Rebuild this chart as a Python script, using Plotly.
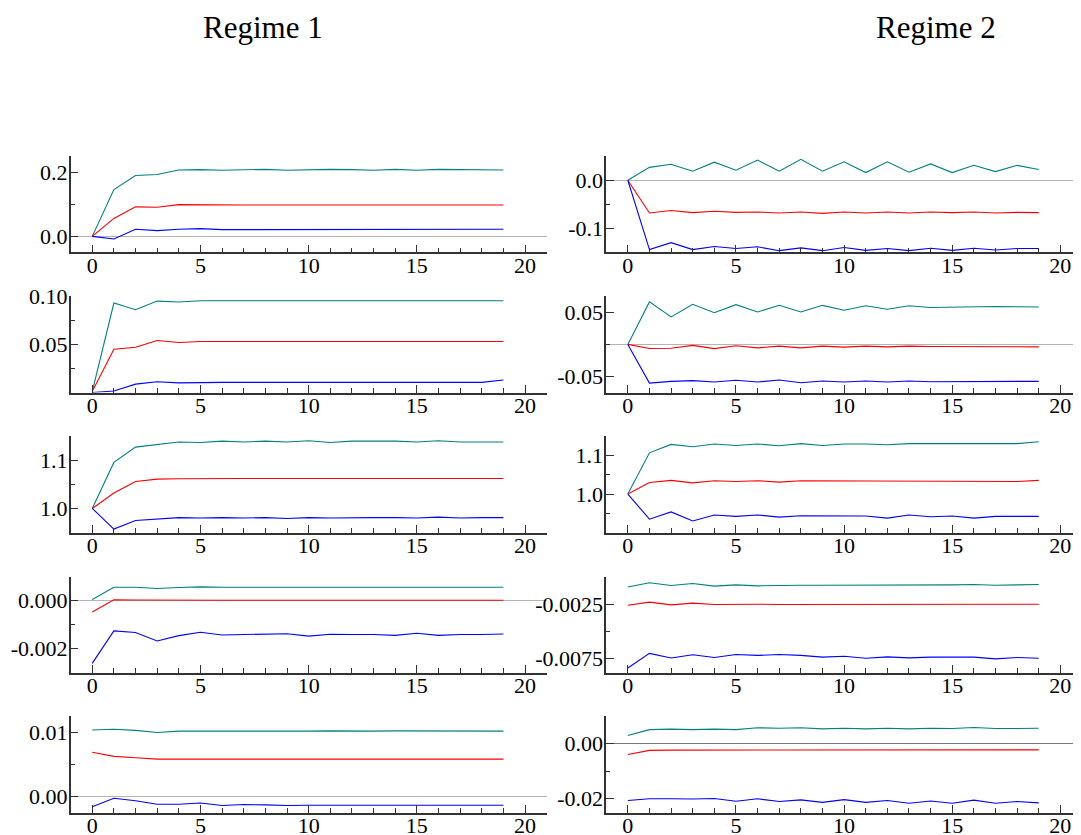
import plotly.graph_objects as go

# page is 1081x835; the html body has an 8px margin, so the figure is drawn 8px in
OFF = 8
W, H = 1081 - OFF, 835 - OFF
FONT = "Liberation Serif"

steps = list(range(20))

# Regime 1 panels (left column)
r1_row1_upper = [0, 0.146, 0.190, 0.193, 0.207, 0.208, 0.206, 0.207, 0.209, 0.206, 0.208, 0.209, 0.208, 0.206, 0.209, 0.206, 0.209, 0.209, 0.209, 0.207]
r1_row1_mid = [0, 0.056, 0.092, 0.091, 0.099, 0.098, 0.098, 0.098, 0.098, 0.097, 0.098, 0.098, 0.098, 0.098, 0.098, 0.098, 0.098, 0.098, 0.098, 0.098]
r1_row1_lower = [0, -0.008, 0.022, 0.018, 0.022, 0.024, 0.021, 0.021, 0.021, 0.021, 0.021, 0.021, 0.021, 0.022, 0.022, 0.021, 0.021, 0.022, 0.022, 0.022]

r1_row2_upper = [0.001, 0.093, 0.086, 0.095, 0.094, 0.0953, 0.0953, 0.0953, 0.0953, 0.0953, 0.0953, 0.0953, 0.0953, 0.0953, 0.0953, 0.0953, 0.0953, 0.0953, 0.0953, 0.0953]
r1_row2_mid = [0.001, 0.045, 0.047, 0.054, 0.052, 0.053, 0.053, 0.053, 0.053, 0.053, 0.053, 0.053, 0.053, 0.053, 0.053, 0.053, 0.053, 0.053, 0.053, 0.053]
r1_row2_lower = [0.0, 0.0015, 0.0087, 0.0112, 0.010, 0.0105, 0.0105, 0.0105, 0.0105, 0.011, 0.0105, 0.0105, 0.0105, 0.011, 0.0105, 0.0105, 0.0105, 0.0105, 0.0105, 0.013]

r1_row3_upper = [1.0, 1.0957, 1.1275, 1.133, 1.138, 1.137, 1.140, 1.138, 1.140, 1.138, 1.1406, 1.137, 1.140, 1.140, 1.140, 1.138, 1.1406, 1.138, 1.138, 1.138]
r1_row3_mid = [1.0, 1.032, 1.056, 1.061, 1.0616, 1.0623, 1.0623, 1.0623, 1.0623, 1.0623, 1.0625, 1.0620, 1.0623, 1.0623, 1.0623, 1.0623, 1.0623, 1.0623, 1.0623, 1.0623]
r1_row3_lower = [1.0, 0.957, 0.975, 0.978, 0.981, 0.980, 0.981, 0.980, 0.981, 0.979, 0.981, 0.980, 0.981, 0.981, 0.981, 0.980, 0.982, 0.980, 0.981, 0.981]

r1_row4_upper = [0.00004, 0.00055, 0.00055, 0.0005, 0.00054, 0.00057, 0.00055, 0.00055, 0.00056, 0.00057, 0.00055, 0.00057, 0.00055, 0.00055, 0.00055, 0.00055, 0.00055, 0.00055, 0.00055, 0.00055]
r1_row4_mid = [-0.00048, 0.00003, 0.00002, 0.00001, 0.00001, 0.00002, 0.00001, 0.00001, 0.00001, 0.00002, 0.00001, 0.00002, 0.00001, 0.00001, 0.00001, 0.00002, 0.00001, 0.00001, 0.00001, 0.00001]
r1_row4_lower = [-0.00261, -0.00126, -0.00133, -0.00168, -0.00146, -0.00132, -0.00143, -0.00142, -0.00141, -0.00138, -0.00148, -0.0014, -0.00141, -0.00141, -0.00145, -0.00136, -0.00145, -0.00141, -0.00141, -0.00139]

r1_row5_upper = [0.01038, 0.01049, 0.01032, 0.0100, 0.0102, 0.0102, 0.0101, 0.0102, 0.0102, 0.0102, 0.0102, 0.01025, 0.0102, 0.0102, 0.01025, 0.01025, 0.0102, 0.0102, 0.0102, 0.0102]
r1_row5_mid = [0.00692, 0.00627, 0.00605, 0.00584, 0.00584, 0.00584, 0.0058, 0.0058, 0.00584, 0.0058, 0.00584, 0.00584, 0.00584, 0.00584, 0.00584, 0.00584, 0.00584, 0.00584, 0.00584, 0.00584]
r1_row5_lower = [-0.00157, -0.00027, -0.00065, -0.00119, -0.00119, -0.001, -0.0014, -0.00124, -0.0013, -0.0014, -0.00135, -0.00135, -0.00135, -0.00135, -0.00135, -0.00135, -0.00135, -0.0013, -0.00135, -0.00135]

# Regime 2 panels (right column)
r2_row1_upper = [0, 0.0268, 0.0333, 0.0188, 0.0377, 0.021, 0.042, 0.0188, 0.0435, 0.0188, 0.0384, 0.016, 0.0384, 0.0167, 0.034, 0.016, 0.031, 0.018, 0.031, 0.0225]
r2_row1_mid = [0, -0.068, -0.063, -0.0674, -0.0645, -0.0667, -0.066, -0.068, -0.066, -0.0688, -0.066, -0.068, -0.066, -0.068, -0.066, -0.0674, -0.066, -0.068, -0.0667, -0.0674]
r2_row1_lower = [0, -0.1442, -0.1297, -0.1442, -0.1377, -0.142, -0.1384, -0.1464, -0.1406, -0.1464, -0.1399, -0.1457, -0.142, -0.1464, -0.1413, -0.1457, -0.1413, -0.145, -0.142, -0.142]

r2_row2_upper = [0, 0.0663, 0.0429, 0.0625, 0.0495, 0.062, 0.0505, 0.0609, 0.0505, 0.0609, 0.0533, 0.0603, 0.0549, 0.0603, 0.0576, 0.0582, 0.0592, 0.0592, 0.0587, 0.0582]
r2_row2_mid = [0, -0.0065, -0.006, -0.0016, -0.0065, -0.0022, -0.0054, -0.0027, -0.0054, -0.0027, -0.0043, -0.0027, -0.0038, -0.0027, -0.0033, -0.0033, -0.0033, -0.0033, -0.0038, -0.0038]
r2_row2_lower = [0, -0.0603, -0.0576, -0.0565, -0.0587, -0.056, -0.0587, -0.0554, -0.0598, -0.0571, -0.0587, -0.0571, -0.0587, -0.0571, -0.0582, -0.0582, -0.0582, -0.0576, -0.0576, -0.0576]

r2_row3_upper = [1.0, 1.107, 1.129, 1.1227, 1.130, 1.126, 1.130, 1.1255, 1.131, 1.126, 1.130, 1.130, 1.128, 1.131, 1.131, 1.131, 1.130, 1.131, 1.131, 1.136]
r2_row3_mid = [1.0, 1.030, 1.0355, 1.029, 1.0345, 1.0327, 1.0345, 1.031, 1.0345, 1.0345, 1.0345, 1.0345, 1.0327, 1.0345, 1.0327, 1.0345, 1.0327, 1.0345, 1.0327, 1.0355]
r2_row3_lower = [1.0, 0.9345, 0.9536, 0.930, 0.9455, 0.9418, 0.9455, 0.940, 0.9436, 0.9427, 0.9427, 0.9427, 0.9373, 0.9455, 0.9409, 0.9427, 0.9373, 0.9418, 0.9418, 0.9418]

r2_row4_upper = [-0.00091, -0.00053, -0.00078, -0.00059, -0.00084, -0.00072, -0.00081, -0.00075, -0.00075, -0.00075, -0.00075, -0.00072, -0.00072, -0.00072, -0.00072, -0.00072, -0.00068, -0.00075, -0.00072, -0.00068]
r2_row4_mid = [-0.0026, -0.00231, -0.00256, -0.0024, -0.00253, -0.0025, -0.0025, -0.00252, -0.00252, -0.0025, -0.00252, -0.0025, -0.00252, -0.0025, -0.00252, -0.0025, -0.00252, -0.0025, -0.00252, -0.0025]
r2_row4_lower = [-0.00836, -0.00702, -0.00744, -0.00715, -0.0074, -0.00712, -0.00721, -0.00712, -0.00721, -0.00737, -0.00728, -0.00747, -0.00734, -0.00744, -0.00737, -0.0074, -0.00737, -0.00753, -0.0074, -0.00747]

r2_row5_upper = [0.0029, 0.005, 0.0052, 0.005, 0.0052, 0.005, 0.0057, 0.0055, 0.0057, 0.0053, 0.0055, 0.0053, 0.0055, 0.0053, 0.0055, 0.0054, 0.0058, 0.0054, 0.0054, 0.0055]
r2_row5_mid = [-0.004, -0.0025, -0.0024, -0.0024, -0.0024, -0.0024, -0.0024, -0.0024, -0.0023, -0.0024, -0.0023, -0.0024, -0.0023, -0.0024, -0.0024, -0.0024, -0.0024, -0.0024, -0.0024, -0.0023]
r2_row5_lower = [-0.0206, -0.02, -0.02, -0.0201, -0.0199, -0.0209, -0.02, -0.021, -0.0204, -0.0213, -0.0203, -0.0213, -0.0206, -0.0216, -0.0208, -0.0216, -0.0205, -0.0216, -0.021, -0.0215]

column_titles = ["Regime 1", "Regime 2"]

x_major = [0, 5, 10, 15, 20]
x_labels = ["0", "5", "10", "15", "20"]

# per panel: (series, y range, major ticks, major labels, minor ticks, zeroline color or None)
panels = [
    [  # left column
        ((r1_row1_upper, r1_row1_mid, r1_row1_lower), [-0.05, 0.25], [0.0, 0.2], ["0.0", "0.2"], [0.1], "#b4b4b4"),
        ((r1_row2_upper, r1_row2_mid, r1_row2_lower), [0.0, 0.10], [0.05, 0.10], ["0.05", "0.10"], [0.025, 0.075], None),
        ((r1_row3_upper, r1_row3_mid, r1_row3_lower), [0.95, 1.15], [1.0, 1.1], ["1.0", "1.1"], [1.05, 1.15], None),
        ((r1_row4_upper, r1_row4_mid, r1_row4_lower), [-0.003, 0.001], [-0.002, 0.0], ["-0.002", "0.000"], [-0.001, 0.001], "#b4b4b4"),
        ((r1_row5_upper, r1_row5_mid, r1_row5_lower), [-0.0025, 0.0125], [0.0, 0.01], ["0.00", "0.01"], [0.005], "#b4b4b4"),
    ],
    [  # right column
        ((r2_row1_upper, r2_row1_mid, r2_row1_lower), [-0.15, 0.05], [-0.1, 0.0], ["-0.1", "0.0"], [-0.05, 0.05], "#b4b4b4"),
        ((r2_row2_upper, r2_row2_mid, r2_row2_lower), [-0.075, 0.075], [-0.05, 0.05], ["-0.05", "0.05"], [0.0], "#b4b4b4"),
        ((r2_row3_upper, r2_row3_mid, r2_row3_lower), [0.90, 1.15], [1.0, 1.1], ["1.0", "1.1"], [0.95, 1.05, 1.15], None),
        ((r2_row4_upper, r2_row4_mid, r2_row4_lower), [-0.0088, 0.00005], [-0.0075, -0.0025], ["-0.0075", "-0.0025"], [-0.005, 0.0], None),
        ((r2_row5_upper, r2_row5_mid, r2_row5_lower), [-0.025, 0.0098], [-0.02, 0.0], ["-0.02", "0.00"], [-0.01], "#777777"),
    ],
]

colors = ["#008080", "#ff0000", "#0000ff"]

# page-pixel geometry of the panels
col_x = [(70.6, 546.7), (606.2, 1081.0)]
row_tops = [156.2, 296.3, 436.3, 576.5, 716.4]
row_h = 96.2
AXC = "#333333"


def px(v):
    return (v - OFF) / W


def py(v):
    return 1 - (v - OFF) / H


fig = go.Figure()
layout = dict(
    width=W, height=H, autosize=False,
    margin=dict(l=0, r=0, t=0, b=0, pad=0),
    paper_bgcolor="white", plot_bgcolor="white",
    showlegend=False,
    font=dict(family=FONT, size=22, color="black"),
)

k = 0
for c in range(2):
    for r in range(5):
        k += 1
        series, yr, ymaj, ylab, ymin, zc = panels[c][r]
        xs = "x" if k == 1 else f"x{k}"
        ys = "y" if k == 1 else f"y{k}"
        for s, col in zip(series, colors):
            fig.add_trace(go.Scatter(x=steps, y=s, mode="lines", xaxis=xs, yaxis=ys,
                                     line=dict(color=col, width=1.1), hoverinfo="skip"))
        x0, x1 = col_x[c]
        top = row_tops[r]
        bot = top + row_h
        xr_end = 21 if c == 0 else -1 + 22 * (x1 - x0) / (1082.0 - 606.2)
        layout["xaxis" if k == 1 else f"xaxis{k}"] = dict(
            domain=[px(x0), px(x1)], anchor=ys, range=[-1, xr_end], automargin=False,
            showgrid=False, zeroline=False, showline=True, linecolor=AXC, linewidth=1.5,
            tickmode="array", tickvals=x_major, ticktext=x_labels,
            ticks="inside", ticklen=8, tickwidth=1.2, tickcolor=AXC,
            ticklabelstandoff=-8,
            minor=dict(tickmode="array", tickvals=[i for i in range(0, 22) if i % 5 != 0],
                       ticks="inside", ticklen=4.5, tickwidth=1.2, tickcolor=AXC, showgrid=False),
            tickfont=dict(family=FONT, size=22, color="black"),
            fixedrange=True,
        )
        layout["yaxis" if k == 1 else f"yaxis{k}"] = dict(
            domain=[py(bot), py(top)], anchor=xs, range=yr, automargin=False,
            showgrid=False, showline=True, linecolor=AXC, linewidth=1.5,
            zeroline=zc is not None, zerolinecolor=zc or "#b4b4b4", zerolinewidth=1.4,
            tickmode="array", tickvals=ymaj, ticktext=ylab,
            ticks="inside", ticklen=8, tickwidth=1.2, tickcolor=AXC,
            ticklabelstandoff=-3,
            minor=dict(tickmode="array", tickvals=ymin,
                       ticks="inside", ticklen=4.5, tickwidth=1.2, tickcolor=AXC, showgrid=False),
            tickfont=dict(family=FONT, size=22, color="black"),
            fixedrange=True,
        )

layout["annotations"] = [
    dict(text=column_titles[0], x=px(262.5), y=py(27.5), xref="paper", yref="paper",
         xanchor="center", yanchor="middle", showarrow=False,
         font=dict(family=FONT, size=31, color="black")),
    dict(text=column_titles[1], x=px(936), y=py(27.5), xref="paper", yref="paper",
         xanchor="center", yanchor="middle", showarrow=False,
         font=dict(family=FONT, size=31, color="black")),
]

fig.update_layout(**layout)
fig.write_html("out.html")
